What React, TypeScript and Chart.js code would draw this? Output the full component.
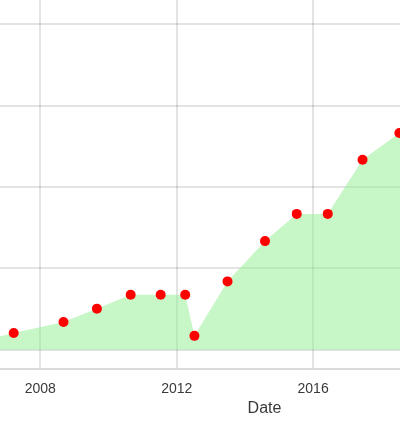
import { useEffect, useRef } from 'react';
import { Chart, registerables } from 'chart.js';

Chart.register(...registerables);

// ---- data ----
const dates: number[] = [2006.2, 2007.22, 2008.68, 2009.66, 2010.65, 2011.53, 2012.25, 2012.52, 2013.49, 2014.59, 2015.52, 2016.43, 2017.45, 2018.53, 2019.5];
const values: number[] = [2.0, 4.1, 6.8, 10.1, 13.5, 13.5, 13.5, 3.4, 16.8, 26.7, 33.4, 33.4, 46.7, 53.3, 58.0];
const xTickValues: number[] = [2004, 2008, 2012, 2016, 2020];
const yTickValues: number[] = [-20, 0, 20, 40, 60, 80, 100];
const xTitle = 'Date';

// ---- layout (page pixels) ----
const VIEW_W = 400;
const VIEW_H = 424;
const CANVAS_LEFT = -20;
const CANVAS_W = 569;
const CANVAS_H = 470;
const PLOT_BOTTOM = 369.3;
const X_REF = 2008;
const X_REF_PX = 40.3;
const PX_PER_YEAR = 34.1;
const Y_ZERO_PX = 350;
const PX_PER_UNIT = 81.33 / 20;

export default function App() {
  const canvasRef = useRef<HTMLCanvasElement | null>(null);

  useEffect(() => {
    document.body.style.margin = '0';
    const canvas = canvasRef.current!;
    const chart = new Chart(canvas, {
      type: 'line',
      data: {
        datasets: [
          {
            data: dates.map((d, i) => ({ x: d, y: values[i] })),
            fill: 'origin',
            backgroundColor: 'rgba(144, 238, 144, 0.5)',
            borderColor: 'rgba(0,0,0,0)',
            borderWidth: 1,
            tension: 0,
            pointRadius: 5,
            pointHoverRadius: 5,
            pointBackgroundColor: '#ff0000',
            pointBorderColor: '#ff0000',
            pointBorderWidth: 0,
          },
        ],
      },
      options: {
        responsive: false,
        animation: false,
        layout: { padding: 0, autoPadding: false },
        plugins: { legend: { display: false }, tooltip: { enabled: false } },
        scales: {
          x: {
            type: 'linear',
            min: 2006,
            max: 2023,
            afterBuildTicks: (scale: any) => {
              scale.ticks = xTickValues
                .filter((v) => v >= scale.min && v <= scale.max)
                .map((value) => ({ value }));
            },
            ticks: {
              padding: 12,
              color: '#3a3a3a',
              font: { family: '"Liberation Sans", Arial, sans-serif', size: 14 },
              callback: (v: any) => String(v),
            },
            grid: { color: 'rgba(0,0,0,0.11)', drawTicks: false, lineWidth: 2 },
            border: { display: true, color: 'rgba(0,0,0,0.14)', width: 2 },
            title: {
              display: true,
              text: xTitle,
              color: '#3a3a3a',
              font: { family: '"Liberation Sans", Arial, sans-serif', size: 16 },
              padding: { top: -11, bottom: 4 },
            },
          },
          y: {
            type: 'linear',
            min: -5,
            max: 90,
            afterBuildTicks: (scale: any) => {
              scale.ticks = yTickValues
                .filter((v) => v >= scale.min && v <= scale.max)
                .map((value) => ({ value }));
            },
            ticks: { display: false },
            grid: { color: 'rgba(0,0,0,0.11)', drawTicks: false, lineWidth: 2 },
            border: { display: false },
          },
        },
      },
    });

    // place the plot area so the axes land where the picture has them
    const area = chart.chartArea;
    const canvasTop = PLOT_BOTTOM - area.bottom;
    canvas.style.top = canvasTop + 'px';
    const pageTop = canvasTop + area.top;
    const pageLeft = CANVAS_LEFT + area.left;
    const pageRight = CANVAS_LEFT + area.right;
    const xs: any = chart.options.scales!.x;
    const ys: any = chart.options.scales!.y;
    xs.min = X_REF - (X_REF_PX - pageLeft) / PX_PER_YEAR;
    xs.max = X_REF + (pageRight - X_REF_PX) / PX_PER_YEAR;
    ys.min = -(PLOT_BOTTOM - Y_ZERO_PX) / PX_PER_UNIT;
    ys.max = (Y_ZERO_PX - pageTop) / PX_PER_UNIT;
    chart.update();

    return () => chart.destroy();
  }, []);

  return (
    <div
      style={{
        position: 'fixed',
        left: 0,
        top: 0,
        width: VIEW_W,
        height: VIEW_H,
        overflow: 'hidden',
        background: '#fff',
      }}
    >
      <canvas
        ref={canvasRef}
        width={CANVAS_W}
        height={CANVAS_H}
        style={{ position: 'absolute', left: CANVAS_LEFT, top: 0, width: CANVAS_W, height: CANVAS_H }}
      />
    </div>
  );
}
